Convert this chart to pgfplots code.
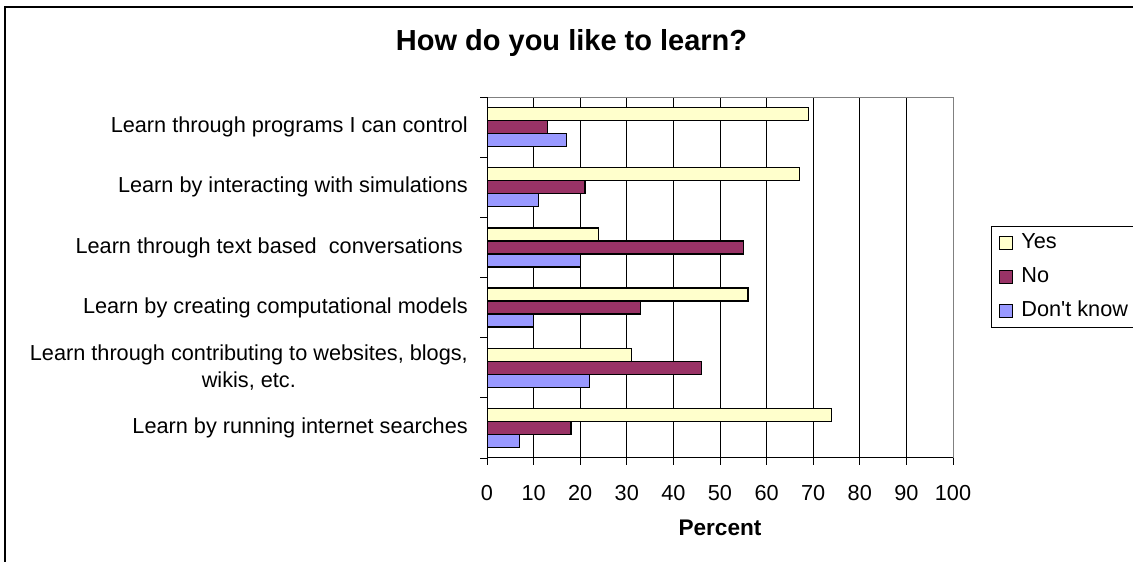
\documentclass[border=0pt]{standalone}
\usepackage{fontspec}
\setmainfont{Liberation Sans}[Ligatures=TeXOff]
\usepackage{pgfplots}
\pgfplotsset{compat=1.18}
\definecolor{cyes}{HTML}{FFFFCC}
\definecolor{cno}{HTML}{993366}
\definecolor{cdk}{HTML}{9999FF}
\newcommand{\lfont}{\fontsize{21.7bp}{27bp}\selectfont}
\begin{document}
\begin{tikzpicture}
\useasboundingbox (0,0) rectangle (1133bp,562bp);
\clip (0,0) rectangle (1133bp,562bp);
\fill[white] (0,0) rectangle (1133bp,562bp);
\draw[line width=2bp] (5bp,-5bp) -- (5bp,555bp) -- (1140bp,555bp);
\node[font=\bfseries\fontsize{29bp}{33bp}\selectfont] at (571.5bp,519bp) {How do you like to learn?};
\node[font=\bfseries\fontsize{22.6bp}{26bp}\selectfont] at (720bp,34bp) {Percent};
\begin{axis}[
  at={(487bp,104bp)}, anchor=south west,
  width=466bp, height=361bp, scale only axis,
  xbar, bar width=13bp,
  xmin=0, xmax=100, ymin=-0.5, ymax=5.5,
  xtick={0,10,...,100},
  xmajorgrids, grid style={black, line width=0.9bp},
  ytick={-0.5,0.5,1.5,2.5,3.5,4.5,5.5}, yticklabels={},
  extra y ticks={0,1,2,3,4,5},
  extra y tick labels={Learn by running internet searches,
    {Learn through contributing to websites, blogs,\\wikis, etc.},
    Learn by creating computational models,
    {Learn through text based\ \ conversations\hspace*{5bp}},
    Learn by interacting with simulations,
    Learn through programs I can control},
  extra y tick style={major tick length=0pt, grid=none},
  tick align=outside, major tick length=7bp, tick pos=left,
  tick style={black, line width=0.9bp},
  axis line style={draw=gray, line width=1bp},
  /pgf/number format/assume math mode=true,
  xticklabel style={font=\lfont, anchor=center, yshift=-28.5bp},
  yticklabel style={font=\lfont, anchor=east, inner sep=0pt, xshift=-19bp, align=center},
  legend style={at={(1.0815,0.6427)}, anchor=north west, draw=black, line width=0.8bp,
    fill=white, font=\lfont, nodes={inner sep=0pt, text height=15bp, text depth=4.5bp},
    row sep=14.5bp, column sep=8bp, inner xsep=8bp, inner ysep=7bp},
  legend cell align=left,
  legend image code/.code={\draw[#1, line width=1bp] (0bp,-6.5bp) rectangle (13bp,6.5bp);},
]
\addplot[fill=cyes, draw=black, line width=1.3bp, bar shift=13bp] coordinates
  {(74,0) (31,1) (56,2) (24,3) (67,4) (69,5)};
\addlegendentry{Yes}
\addplot[fill=cno, draw=black, line width=1.3bp, bar shift=0bp] coordinates
  {(18,0) (46,1) (33,2) (55,3) (21,4) (13,5)};
\addlegendentry{No}
\addplot[fill=cdk, draw=black, line width=1.3bp, bar shift=-13bp] coordinates
  {(7,0) (22,1) (10,2) (20,3) (11,4) (17,5)};
\addlegendentry{Don't know\hspace*{20bp}}
\draw[black, line width=1bp] (rel axis cs:0,1) -- (rel axis cs:0,0) -- (rel axis cs:1,0);
\end{axis}
\end{tikzpicture}
\end{document}
